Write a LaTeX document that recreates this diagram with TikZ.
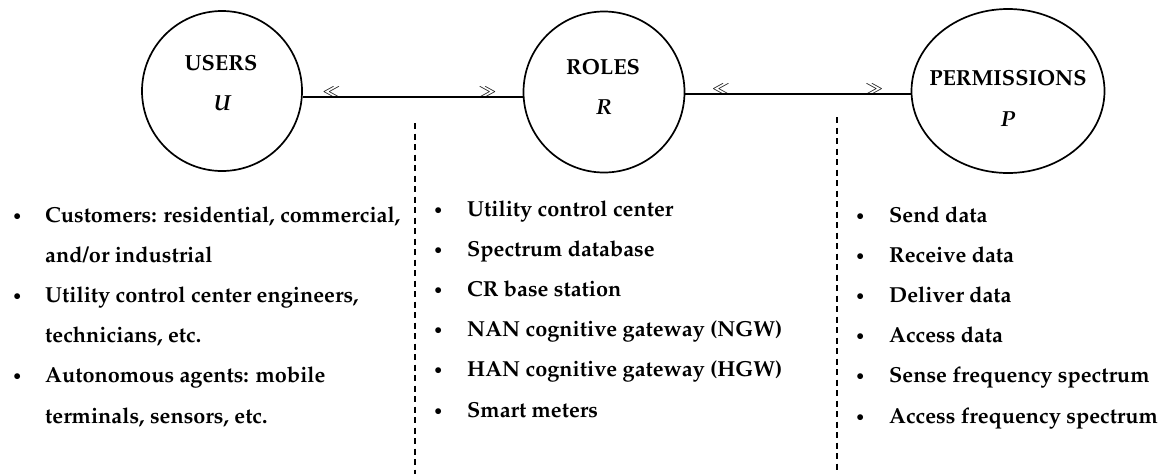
\documentclass[tikz,border=0pt]{standalone}
\usepackage[T1]{fontenc}
\usepackage{mathpazo}
\usetikzlibrary{shapes.geometric}
\newcommand{\blt}{{\mdseries\fontsize{17}{17}\selectfont\textbullet}}
\begin{document}
\begin{tikzpicture}[x=1pt,y=-1pt,
  ent/.style={draw, line width=1.7pt, inner sep=0pt},
  link/.style={line width=2.6pt},
  sep/.style={line width=1.1pt, dash pattern=on 6pt off 4.5pt},
  chev/.style={inner sep=0pt, anchor=south, yshift=-1pt, font=\fontsize{17}{17}\selectfont},
  lab/.style={inner sep=0pt, font=\fontsize{21.8}{24}\selectfont\bfseries},
  sym/.style={inner sep=0pt, font=\fontsize{21.8}{24}\selectfont\bfseries\itshape},
  lst/.style={inner sep=0pt, anchor=base west, font=\fontsize{21.7}{40.2}\selectfont\bfseries}
]
\useasboundingbox (0,0) rectangle (1166,474);
\node[ent, circle, minimum size=160pt] (users) at (222,91) {};
\node[ent, circle, minimum size=161pt] (roles) at (604,92) {};
\node[ent, ellipse, minimum width=193pt, minimum height=164pt] (perms) at (1008,91) {};

\node[lab] (ulab) at (221,63) {USERS};
\node[sym] (usym) at (222,103) {U};
\node[lab] (rlab) at (603,67) {ROLES};
\node[sym] (rsym) at (604,107) {R};
\node[lab] (plab) at (1008,78) {PERMISSIONS};
\node[sym] (psym) at (1008,119) {P};

\draw[link] ([yshift=-6pt]users.east) -- node[chev, pos=0.13] (c1) {$\ll$} node[chev, pos=0.84] (c2) {$\gg$} ([yshift=-5pt]roles.west);
\draw[link] ([yshift=-2pt]roles.east) -- node[chev, pos=0.158] (c3) {$\ll$} node[chev, pos=0.838] (c4) {$\gg$} ([yshift=-3pt]perms.west);

\coordinate (d1a) at (415,123);
\coordinate (d1b) at (415,474);
\coordinate (d2a) at (837,117);
\coordinate (d2b) at (837,474);
\draw[sep] (d1a) -- (d1b);
\draw[sep] (d2a) -- (d2b);

\node[lst] (ulist) at (12,222) {\begin{tabular}[t]{@{}p{33pt}@{}l@{}}
\blt & Customers: residential, commercial,\\
 & and/or industrial\\
\blt & Utility control center engineers,\\
 & technicians, etc.\\
\blt & Autonomous agents: mobile\\
 & terminals, sensors, etc.
\end{tabular}};

\node[lst] (rlist) at (433,216) {\begin{tabular}[t]{@{}p{34pt}@{}l@{}}
\blt & Utility control center\\
\blt & Spectrum database\\
\blt & CR base station\\
\blt & NAN cognitive gateway (NGW)\\
\blt & HAN cognitive gateway (HGW)\\
\blt & Smart meters
\end{tabular}};

\node[lst] (plist) at (855,222) {\begin{tabular}[t]{@{}p{34pt}@{}l@{}}
\blt & Send data\\
\blt & Receive data\\
\blt & Deliver data\\
\blt & Access data\\
\blt & Sense frequency spectrum\\
\blt & Access frequency spectrum
\end{tabular}};
\end{tikzpicture}
\end{document}
